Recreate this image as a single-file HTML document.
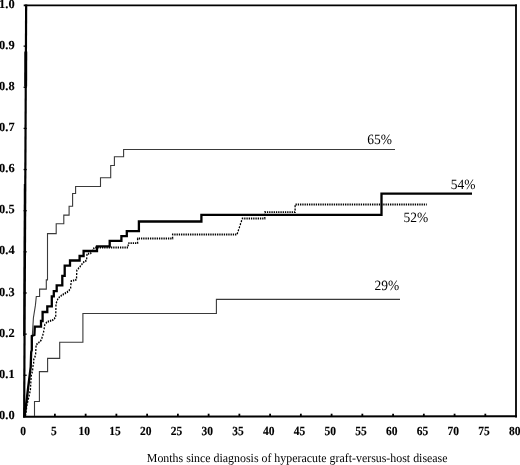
<!DOCTYPE html>
<html><head><meta charset="utf-8"><title>chart</title>
<style>
html,body{margin:0;padding:0;background:#fff;}
body{width:520px;height:465px;overflow:hidden;}
svg{display:block;filter:grayscale(1);}
text{font-family:"Liberation Serif",serif;fill:#000;text-rendering:geometricPrecision;}
.b{font-weight:bold;font-size:12.4px;stroke:#000;stroke-width:0.12px;}
.l{font-size:14.2px;}
.t{font-size:12.3px;}
</style></head><body>
<svg width="520" height="465" viewBox="0 0 520 465">
<rect width="520" height="465" fill="#fff"/>

<g stroke="#000" fill="none">
<line x1="23.7" y1="5.35" x2="517" y2="5.35" stroke-width="1.9"/>
<line x1="26.15" y1="4.4" x2="24.15" y2="417.5" stroke-width="2.2"/>
<line x1="516" y1="4.4" x2="516" y2="417.6" stroke-width="1.8"/>
<line x1="23.1" y1="416.7" x2="517" y2="416.35" stroke-width="2"/>
<line x1="25.8" y1="51.6" x2="25.7" y2="86.5" stroke-width="2.9"/>
<line x1="24.45" y1="184" x2="23.85" y2="336" stroke-width="1.3"/>
<line x1="54.89" y1="413.7" x2="54.89" y2="416" stroke-width="1.8"/>
<line x1="85.64" y1="413.7" x2="85.64" y2="416" stroke-width="1.8"/>
<line x1="116.38" y1="413.7" x2="116.38" y2="416" stroke-width="1.8"/>
<line x1="147.13" y1="413.7" x2="147.13" y2="416" stroke-width="1.8"/>
<line x1="177.88" y1="413.7" x2="177.88" y2="416" stroke-width="1.8"/>
<line x1="208.62" y1="413.7" x2="208.62" y2="416" stroke-width="1.8"/>
<line x1="239.37" y1="413.7" x2="239.37" y2="416" stroke-width="1.8"/>
<line x1="270.11" y1="413.7" x2="270.11" y2="416" stroke-width="1.8"/>
<line x1="300.85" y1="413.7" x2="300.85" y2="416" stroke-width="1.8"/>
<line x1="331.60" y1="413.7" x2="331.60" y2="416" stroke-width="1.8"/>
<line x1="362.34" y1="413.7" x2="362.34" y2="416" stroke-width="1.8"/>
<line x1="393.09" y1="413.7" x2="393.09" y2="416" stroke-width="1.8"/>
<line x1="423.83" y1="413.7" x2="423.83" y2="416" stroke-width="1.8"/>
<line x1="454.58" y1="413.7" x2="454.58" y2="416" stroke-width="1.8"/>
<line x1="485.32" y1="413.7" x2="485.32" y2="416" stroke-width="1.8"/>
<line x1="23.60" y1="375.26" x2="26.70" y2="375.26" stroke-width="1.3"/>
<line x1="23.60" y1="334.12" x2="26.70" y2="334.12" stroke-width="1.3"/>
<line x1="23.60" y1="292.98" x2="26.70" y2="292.98" stroke-width="1.3"/>
<line x1="23.60" y1="251.84" x2="26.70" y2="251.84" stroke-width="1.3"/>
<line x1="23.60" y1="210.70" x2="26.70" y2="210.70" stroke-width="1.3"/>
<line x1="23.60" y1="169.56" x2="26.70" y2="169.56" stroke-width="1.3"/>
<line x1="23.60" y1="128.42" x2="26.70" y2="128.42" stroke-width="1.3"/>
<line x1="23.60" y1="87.28" x2="26.70" y2="87.28" stroke-width="1.3"/>
<line x1="23.60" y1="46.14" x2="26.70" y2="46.14" stroke-width="1.3"/>
</g>
<g fill="none" stroke="#000" stroke-linejoin="miter">
<path d="M25,416 L26.2,407 L28.3,388 L30.9,367 L31.6,350 L32.4,334.5 L33.4,318 L35.4,305.4 L36.3,296.5 H39.6 V289.1 H46.3 V279.9 H47.5 V233.6 H56.2 V223.7 H63.8 V215.1 H69.1 V206.3 H72.6 V193.5 H75.6 V186.5 H100.5 V177.8 H110.7 V165.5 H114.4 V156.7 H123.6 V149.5 H395" stroke-width="1.1" stroke="#3a3a3a"/>
<path d="M34.5,416 V401.5 H39.4 V371.6 H47.6 V358.4 H59.7 V342.3 H82.9 V313.5 H216.4 V299.4 H400" stroke-width="1.1" stroke="#3a3a3a"/>
<path d="M24.6,416 L25.8,407 L28.1,388 L30.7,367 L31.2,352 L31.8,350 V336 L34.4,335 L34.8,326.7 H41 V321 H42.6 V312 H47.3 V306.4 H51.8 V296.3 H53.8 V291.2 H56.7 V285.4 H62.3 V275.8 H64.7 V265.7 H70 V260.5 H79.6 V256 H83.6 V251 H97 V246.3 H109.7 V240.8 H121.4 V236.1 H126.8 V231.2 H138.9 V221.5 H201.4 V214.8 H381.5 V193.7 H472" stroke-width="2.3"/>
<path transform="scale(1,1.5)" d="M25.50,277.333 L27.00,270.000 L29.50,262.667 L30.40,260.000 L31.20,250.667 L32.60,247.067 L33.00,244.000 L33.60,242.333 L33.70,239.800 L34.70,238.267 L35.60,236.667 L35.80,234.200 L35.90,231.867 L36.20,229.733 L37.80,229.067 L41.30,226.733 L43.40,222.067 L44.80,216.533 L46.90,214.667 L53.20,213.267 L55.70,211.400 L56.00,202.533 L58.10,198.800 L61.60,196.933 L68.60,194.133 L70.60,192.133 L71.20,187.400 L76.50,186.467 L76.80,180.333 L83.60,174.800 L86.60,173.600 L87.00,169.267 L90.70,168.867 L94.30,165.000 H128.20 V162.067 H137.60 V159.000 H172.60 V156.333 H237.00 L242.30,145.667 H264.80 V141.400 H295.10 V136.267 H426.80" stroke-width="1.3" stroke-dasharray="1.3 0.95"/>
</g>
<text class="b" transform="translate(23.15,435.35) scale(0.93,1)" text-anchor="middle">0</text>
<text class="b" transform="translate(53.89,435.35) scale(0.93,1)" text-anchor="middle">5</text>
<text class="b" transform="translate(84.24,435.35) scale(0.93,1)" text-anchor="middle">10</text>
<text class="b" transform="translate(114.98,435.35) scale(0.93,1)" text-anchor="middle">15</text>
<text class="b" transform="translate(145.73,435.35) scale(0.93,1)" text-anchor="middle">20</text>
<text class="b" transform="translate(176.47,435.35) scale(0.93,1)" text-anchor="middle">25</text>
<text class="b" transform="translate(207.22,435.35) scale(0.93,1)" text-anchor="middle">30</text>
<text class="b" transform="translate(237.97,435.35) scale(0.93,1)" text-anchor="middle">35</text>
<text class="b" transform="translate(268.71,435.35) scale(0.93,1)" text-anchor="middle">40</text>
<text class="b" transform="translate(299.45,435.35) scale(0.93,1)" text-anchor="middle">45</text>
<text class="b" transform="translate(330.20,435.35) scale(0.93,1)" text-anchor="middle">50</text>
<text class="b" transform="translate(360.94,435.35) scale(0.93,1)" text-anchor="middle">55</text>
<text class="b" transform="translate(391.69,435.35) scale(0.93,1)" text-anchor="middle">60</text>
<text class="b" transform="translate(422.44,435.35) scale(0.93,1)" text-anchor="middle">65</text>
<text class="b" transform="translate(453.18,435.35) scale(0.93,1)" text-anchor="middle">70</text>
<text class="b" transform="translate(483.93,435.35) scale(0.93,1)" text-anchor="middle">75</text>
<text class="b" transform="translate(514.67,435.35) scale(0.93,1)" text-anchor="middle">80</text>
<text class="b" x="14.6" y="419.00" text-anchor="end">0.0</text>
<text class="b" x="14.6" y="377.86" text-anchor="end">0.1</text>
<text class="b" x="14.6" y="336.72" text-anchor="end">0.2</text>
<text class="b" x="14.6" y="295.58" text-anchor="end">0.3</text>
<text class="b" x="14.6" y="254.44" text-anchor="end">0.4</text>
<text class="b" x="14.6" y="213.30" text-anchor="end">0.5</text>
<text class="b" x="14.6" y="172.16" text-anchor="end">0.6</text>
<text class="b" x="14.6" y="131.02" text-anchor="end">0.7</text>
<text class="b" x="14.6" y="89.88" text-anchor="end">0.8</text>
<text class="b" x="14.6" y="48.74" text-anchor="end">0.9</text>
<text class="b" x="14.6" y="7.60" text-anchor="end">1.0</text>
<text class="l" transform="translate(367.2,144.4) scale(0.95,1)">65%</text>
<text class="l" transform="translate(450.7,189.2) scale(0.95,1)">54%</text>
<text class="l" transform="translate(403.6,221.5) scale(0.95,1)">52%</text>
<text class="l" transform="translate(374.4,290) scale(0.95,1)">29%</text>
<text class="t" x="146.8" y="461.8" textLength="300.7" lengthAdjust="spacingAndGlyphs">Months since diagnosis of hyperacute graft-versus-host disease</text>
</svg></body></html>
